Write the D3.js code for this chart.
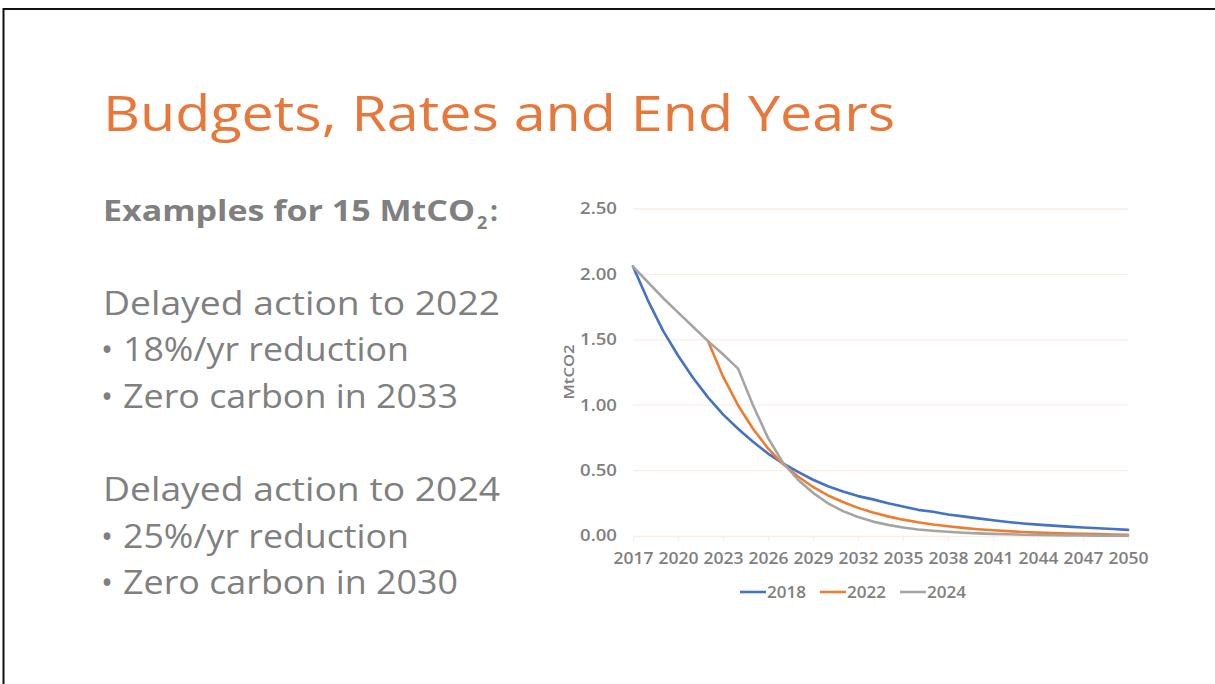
<!DOCTYPE html>
<html>
<head>
<meta charset="utf-8">
<script src="https://cdn.jsdelivr.net/npm/d3@7"></script>
<style>
  html, body { margin: 0; padding: 0; background: #fff; }
  svg { display: block; }
</style>
</head>
<body>
<svg id="chart" width="1215" height="684"></svg>
<script>
// ---- Data ----
const years = d3.range(2017, 2051);
const tickYears = [2017, 2020, 2023, 2026, 2029, 2032, 2035, 2038, 2041, 2044, 2047, 2050];
const yTicks = [0, 0.5, 1.0, 1.5, 2.0, 2.5];
const seriesNames = ["2018", "2022", "2024"];

const values2018 = [2.06, 1.80, 1.57, 1.38, 1.21, 1.06, 0.93, 0.82, 0.72, 0.63,
  0.555, 0.49, 0.43, 0.38, 0.34, 0.305, 0.28, 0.25, 0.225, 0.20,
  0.185, 0.165, 0.15, 0.135, 0.12, 0.107, 0.096, 0.087, 0.079, 0.072,
  0.065, 0.059, 0.053, 0.047];
const values2022 = [null, null, null, null, null, 1.49, 1.22, 1.00, 0.82, 0.67,
  0.55, 0.455, 0.375, 0.31, 0.26, 0.215, 0.18, 0.15, 0.125, 0.105,
  0.088, 0.074, 0.062, 0.052, 0.044, 0.037, 0.031, 0.026, 0.022, 0.019,
  0.016, 0.014, 0.012, 0.010];
const values2024 = [2.06, 1.94, 1.82, 1.71, 1.60, 1.49, 1.39, 1.28, 1.00, 0.75,
  0.56, 0.43, 0.33, 0.25, 0.19, 0.145, 0.11, 0.085, 0.065, 0.05,
  0.04, 0.032, 0.025, 0.02, 0.016, 0.013, 0.010, 0.008, 0.006, 0.005,
  0.004, 0.003, 0.002, 0.002];
const seriesColors = ["#4472C4", "#ED7D31", "#A5A5A5"];

const titleText = "Budgets, Rates and End Years";
const leftLines = [
  "Delayed action to 2022",
  "• 18%/yr reduction",
  "• Zero carbon in 2033",
  "Delayed action to 2024",
  "• 25%/yr reduction",
  "• Zero carbon in 2030"
];

// ---- Drawing ----
const svg = d3.select("#chart");
const textGray = "#808080";
const font = "'Open Sans', 'DejaVu Sans', sans-serif";

// slide border
svg.append("line").attr("x1", 3).attr("x2", 1215).attr("y1", 9).attr("y2", 9)
  .attr("stroke", "#111").attr("stroke-width", 2);
svg.append("line").attr("x1", 3.5).attr("x2", 3.5).attr("y1", 8).attr("y2", 684)
  .attr("stroke", "#111").attr("stroke-width", 2);

// title
svg.append("text").attr("x", 103).attr("y", 131)
  .attr("font-family", font).attr("font-size", 50).attr("fill", "#E8773A")
  .attr("textLength", 792).attr("lengthAdjust", "spacingAndGlyphs")
  .text(titleText);

// examples heading
svg.append("text").attr("x", 103).attr("y", 221)
  .attr("font-family", font).attr("font-size", 28).attr("font-weight", 700)
  .attr("fill", textGray).attr("textLength", 372).attr("lengthAdjust", "spacingAndGlyphs")
  .text("Examples for 15 MtCO");
svg.append("text").attr("x", 477).attr("y", 229)
  .attr("font-family", font).attr("font-size", 18).attr("font-weight", 700)
  .attr("fill", textGray).text("2");
svg.append("text").attr("x", 490).attr("y", 221)
  .attr("font-family", font).attr("font-size", 28).attr("font-weight", 700)
  .attr("fill", textGray).text(":");

// left block
const lineY = [315, 361, 408, 501, 548, 594];
const lineW = [397, 286, 335, 397, 286, 335];
leftLines.forEach((t, i) => {
  if (t.startsWith("•")) {
    svg.append("text").attr("x", 101).attr("y", lineY[i])
      .attr("font-family", font).attr("font-size", 32).attr("fill", textGray).text("•");
    svg.append("text").attr("x", 123).attr("y", lineY[i])
      .attr("font-family", font).attr("font-size", 32).attr("fill", textGray)
      .attr("textLength", lineW[i]).attr("lengthAdjust", "spacingAndGlyphs")
      .text(t.slice(2));
  } else {
    svg.append("text").attr("x", 103).attr("y", lineY[i])
      .attr("font-family", font).attr("font-size", 32).attr("fill", textGray)
      .attr("textLength", lineW[i]).attr("lengthAdjust", "spacingAndGlyphs")
      .text(t);
  }
});

// chart scales
const x = d3.scalePoint().domain(years).range([633, 1128]);
const y = d3.scaleLinear().domain([0, 2.5]).range([536, 209]);

const gridColor = "#FBECE4";
// gridlines
svg.append("g").selectAll("line").data(yTicks.filter(d => d > 0)).join("line")
  .attr("x1", 633).attr("x2", 1128)
  .attr("y1", d => y(d)).attr("y2", d => y(d))
  .attr("stroke", gridColor).attr("stroke-width", 1.3);

// y axis labels
const yAxis = svg.append("g").attr("transform", "translate(633,0)")
  .call(d3.axisLeft(y).tickValues(yTicks).tickFormat(d3.format(".2f")).tickSize(0).tickPadding(16));
yAxis.select(".domain").remove();
yAxis.selectAll("text").attr("font-family", font).attr("font-size", 15.5)
  .attr("font-weight", 600).attr("fill", textGray)
  .attr("textLength", 37).attr("lengthAdjust", "spacingAndGlyphs");

// x axis
const xAxis = svg.append("g").attr("transform", "translate(0,536)")
  .call(d3.axisBottom(x).tickValues(tickYears).tickFormat(d => String(d)).tickSize(5).tickPadding(12).tickSizeOuter(0));
xAxis.select(".domain").attr("stroke", gridColor).attr("stroke-width", 1.3);
xAxis.selectAll(".tick line").attr("stroke", gridColor).attr("stroke-width", 1.3);
xAxis.selectAll("text").attr("font-family", font).attr("font-size", 16)
  .attr("font-weight", 600).attr("fill", textGray)
  .attr("textLength", 40).attr("lengthAdjust", "spacingAndGlyphs");

// y axis title
svg.append("text").attr("transform", "translate(574,372) rotate(-90)")
  .attr("text-anchor", "middle").attr("font-family", font).attr("font-size", 14)
  .attr("font-weight", 600).attr("fill", textGray)
  .attr("textLength", 55).attr("lengthAdjust", "spacingAndGlyphs").text("MtCO2");

// lines
const allSeries = [values2018, values2022, values2024];
const line = d3.line()
  .defined(d => d.v != null)
  .x(d => x(d.year)).y(d => y(d.v));
allSeries.forEach((vals, i) => {
  const data = years.map((yr, j) => ({ year: yr, v: vals[j] }));
  svg.append("path").datum(data)
    .attr("fill", "none").attr("stroke", seriesColors[i]).attr("stroke-width", 2.6)
    .attr("stroke-linejoin", "round").attr("stroke-linecap", "round")
    .attr("d", line);
});

// legend
const legendX = [740, 820, 900];
const lg = svg.append("g").selectAll("g").data(seriesNames).join("g")
  .attr("transform", (d, i) => `translate(${legendX[i]},592)`);
lg.append("line").attr("x1", 0).attr("x2", 26).attr("y1", 0).attr("y2", 0)
  .attr("stroke", (d, i) => seriesColors[i]).attr("stroke-width", 2.6);
lg.append("text").attr("x", 27).attr("y", 6).attr("font-family", font)
  .attr("font-size", 16).attr("font-weight", 600).attr("fill", textGray)
  .attr("textLength", 39).attr("lengthAdjust", "spacingAndGlyphs").text(d => d);
</script>
</body>
</html>
